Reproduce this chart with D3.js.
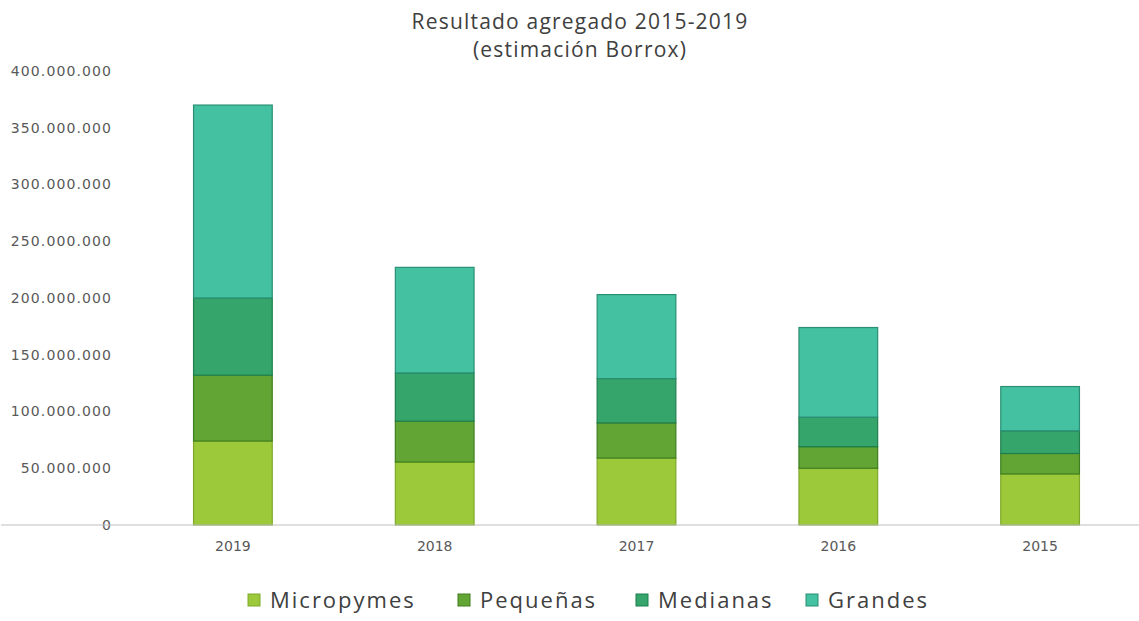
<!DOCTYPE html>
<html>
<head>
<meta charset="utf-8">
<script src="https://cdn.jsdelivr.net/npm/d3@7"></script>
<style>
  body { margin: 0; background: #fff; }
  .title { font-family: "Open Sans", sans-serif; font-size: 21px; letter-spacing: 1.2px; fill: #404040; }
  .y-axis text, .x-axis text { font-family: "DejaVu Sans", sans-serif; fill: #595959; }
  .legend text { font-family: "Open Sans", sans-serif; font-size: 22px; letter-spacing: 2px; fill: #404040; }
</style>
</head>
<body>
<div id="chart"></div>
<script>
(function () {

  // data (millions of euros)
  var years = ['2019', '2018', '2017', '2016', '2015']
  var sizes = ['Micropymes', 'Pequeñas', 'Medianas', 'Grandes']
  var micropymes = [74, 55.5, 59, 50, 45]
  var pequenas = [58, 36, 31, 19, 18]
  var medianas = [68, 42.5, 39, 26, 20]
  var grandes = [170, 93, 74, 79, 39]
  var yTicks = [0, 50, 100, 150, 200, 250, 300, 350, 400]

  var colors = ['#9bc93a', '#62a535', '#35a56c', '#43c1a0']
  var strokes = ['#7fa82a', '#3f7f1f', '#1f7f4c', '#2b8f74']

  var width = 1139, height = 621
  var margin = { top: 71, right: -2, bottom: 96, left: 132 }

  var rows = years.map(function (y, i) {
    return { year: y, Micropymes: micropymes[i] * 1e6, 'Pequeñas': pequenas[i] * 1e6,
             Medianas: medianas[i] * 1e6, Grandes: grandes[i] * 1e6 }
  })

  var svg = d3.select('#chart').append('svg')
    .attr('width', width)
    .attr('height', height)

  var xPositionScale = d3.scaleBand()
    .domain(years)
    .range([margin.left, width - margin.right])
    .paddingInner(0.61)
    .paddingOuter(0.305)

  var yPositionScale = d3.scaleLinear()
    .domain([0, 400e6])
    .range([height - margin.bottom, margin.top])

  var colorScale = d3.scaleOrdinal().domain(sizes).range(colors)
  var strokeScale = d3.scaleOrdinal().domain(sizes).range(strokes)

  var stacked = d3.stack().keys(sizes)(rows)

  svg.append('g').selectAll('g')
    .data(stacked)
    .enter().append('g')
    .attr('fill', function (d) { return colorScale(d.key) })
    .attr('stroke', function (d) { return strokeScale(d.key) })
    .selectAll('rect')
    .data(function (d) { return d })
    .enter().append('rect')
    .attr('x', function (d) { return xPositionScale(d.data.year) })
    .attr('width', xPositionScale.bandwidth())
    .attr('y', function (d) { return yPositionScale(d[1]) })
    .attr('height', function (d) { return yPositionScale(d[0]) - yPositionScale(d[1]) })
    .attr('stroke-width', 1.2)

  // y axis: labels only
  var fmt = d3.formatLocale({ decimal: ',', thousands: '.', grouping: [3], currency: ['', '€'] }).format(',')
  var yAxis = d3.axisLeft(yPositionScale)
    .tickValues(yTicks.map(function (t) { return t * 1e6 }))
    .tickFormat(fmt)
    .tickSize(0)
    .tickPadding(0)
  svg.append('g')
    .attr('class', 'axis y-axis')
    .attr('transform', 'translate(112,0)')
    .call(yAxis)
    .call(function (g) { g.select('.domain').remove() })
    .selectAll('text').attr('font-size', 14).attr('letter-spacing', 1.1)

  var xAxis = d3.axisBottom(xPositionScale).tickSize(0).tickPadding(16)
  svg.append('g')
    .attr('class', 'axis x-axis')
    .attr('transform', 'translate(0,' + (height - margin.bottom) + ')')
    .call(xAxis)
    .call(function (g) { g.select('.domain').attr('stroke', '#bfbfbf').attr('d', 'M1,0H' + width) })
    .selectAll('text').attr('font-size', 14)

  // title
  var title = svg.append('text').attr('class', 'title').attr('text-anchor', 'middle')
  title.append('tspan').attr('x', 580).attr('y', 29).text('Resultado agregado 2015-2019')
  title.append('tspan').attr('x', 580).attr('y', 57).text('(estimación Borrox)')

  // legend
  var legendX = [248, 458, 636, 806]
  var legend = svg.append('g').attr('class', 'legend')
    .selectAll('g').data(sizes).enter().append('g')
    .attr('transform', function (d, i) { return 'translate(' + legendX[i] + ',600)' })
  legend.append('rect')
    .attr('x', 0).attr('y', -6).attr('width', 12).attr('height', 12)
    .attr('fill', function (d) { return colorScale(d) })
    .attr('stroke', function (d) { return strokeScale(d) })
  legend.append('text')
    .attr('x', 22).attr('y', 8)
    .text(function (d) { return d })

})()
</script>
</body>
</html>
